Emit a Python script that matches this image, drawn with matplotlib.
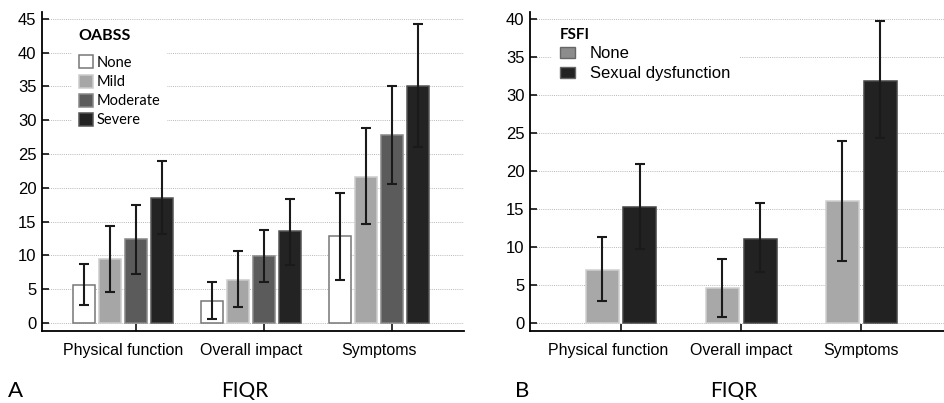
"""
FIQR domain scores by OABSS severity (A) and by FSFI status (B)
"""
import matplotlib
matplotlib.use("Agg")
import matplotlib.pyplot as plt
import matplotlib.transforms as mtransforms
import numpy as np

domains = ["Physical function", "Overall impact", "Symptoms"]

# panel A - OABSS
oabss_groups = ["None", "Mild", "Moderate", "Severe"]
oabss_mean = [[5.6, 3.2, 12.8],
              [9.5, 6.3, 21.6],
              [12.4, 9.9, 27.8],
              [18.5, 13.6, 35.1]]
oabss_low = [[2.6, 0.55, 6.3],
             [4.6, 2.3, 14.6],
             [7.2, 6.0, 20.6],
             [13.2, 8.6, 26.1]]
oabss_high = [[8.7, 6.0, 19.3],
              [14.35, 10.6, 28.9],
              [17.5, 13.8, 35.0],
              [24.0, 18.4, 44.2]]

# panel B - FSFI
fsfi_groups = ["None", "Sexual dysfunction"]
fsfi_mean = [[6.95, 4.6, 16.0],
             [15.3, 11.1, 31.9]]
fsfi_low = [[2.8, 0.75, 8.1],
            [9.75, 6.7, 24.4]]
fsfi_high = [[11.25, 8.45, 23.9],
             [20.9, 15.8, 39.7]]

ARIAL = "Liberation Sans"
CALIBRI = "Lato"

plt.rcParams["font.family"] = ARIAL
plt.rcParams["font.size"] = 12


def style_axes(ax, ylim, yticks):
    ax.set_ylim(*ylim)
    ax.set_yticks(yticks)
    for side in ("top", "right"):
        ax.spines[side].set_visible(False)
    for side in ("left", "bottom"):
        ax.spines[side].set_linewidth(1.3)
    ax.set_axisbelow(True)
    ax.yaxis.grid(True, linestyle=(0, (1, 1.2)), color="#b8b8b8", linewidth=0.7)
    ax.tick_params(axis="both", which="major", direction="in", length=5,
                   width=1.3, color="#222222", labelsize=12)
    ax.tick_params(axis="y", pad=4)
    ax.tick_params(axis="x", which="both", pad=9, labelsize=11.5)


def add_errorbars(ax, pos, mean, low, high):
    m = np.array(mean)
    err = [m - np.array(low), np.array(high) - m]
    ax.errorbar(pos, m, yerr=err, fmt="none", ecolor="#1a1a1a",
                elinewidth=1.5, capsize=3.6, capthick=1.5, zorder=3)


fig = plt.figure(figsize=(9.44, 4.03), dpi=100)
x = np.arange(len(domains))

# ---- panel A
axA = fig.add_axes([42 / 944, 1 - 331 / 403, 422 / 944, 319 / 403])
w_a = 0.172
step_a = 0.203
colors_a = ["white", "#a6a6a6", "#5b5b5b", "#232323"]
edges_a = ["#777777", "#cccccc", "#888888", "#555555"]
for i, grp in enumerate(oabss_groups):
    pos = x + (i - 1.5) * step_a
    axA.bar(pos, oabss_mean[i], width=w_a, color=colors_a[i], edgecolor=edges_a[i],
            linewidth=1.1, label=grp, zorder=2)
    add_errorbars(axA, pos, oabss_mean[i], oabss_low[i], oabss_high[i])
style_axes(axA, (-1.18, 46.0), range(0, 46, 5))
axA.set_xlim(-0.633, 2.66)
# tick marks sit on the third bar, labels at group centres
axA.set_xticks(x + 0.5 * step_a, labels=["", "", ""])
axA.set_xticks(x, minor=True)
axA.set_xticklabels(domains, minor=True)
axA.tick_params(axis="x", which="minor", length=0)

legA = axA.legend(title="OABSS", loc="upper left", bbox_to_anchor=(0.07, 0.97),
                  prop={"family": CALIBRI, "size": 10.5},
                  title_fontproperties={"family": CALIBRI, "weight": "bold", "size": 11.5},
                  frameon=True, facecolor="white", edgecolor="none", framealpha=1,
                  fancybox=False, borderpad=0.5, handlelength=1.0, handleheight=1.0,
                  handletextpad=0.2, labelspacing=0.32, borderaxespad=0)
legA._legend_box.align = "left"
legA._legend_box.sep = 9

# ---- panel B
axB = fig.add_axes([530 / 944, 1 - 331 / 403, 414 / 944, 319 / 403])
w_b = 0.275
off_b = 0.158
colors_b = ["#a8a8a8", "#222222"]
edges_b = ["#d0d0d0", "#444444"]
legend_b = ["#8c8c8c", "#222222"]
for i, grp in enumerate(fsfi_groups):
    pos = x + (i - 0.5) * 2 * off_b
    axB.bar(pos, fsfi_mean[i], width=w_b, color=colors_b[i], edgecolor=edges_b[i],
            linewidth=1.1, zorder=2)
    add_errorbars(axB, pos, fsfi_mean[i], fsfi_low[i], fsfi_high[i])
    # legend swatch is a shade darker than the bar
    axB.bar([np.nan], [np.nan], color=legend_b[i], edgecolor="#666666",
            linewidth=1.0, label=grp)
style_axes(axB, (-1.09, 40.95), range(0, 41, 5))
axB.set_xlim(-0.758, 2.69)
axB.set_xticks(x, labels=domains)
# first label is drawn a little left of its tick in the original
shift = mtransforms.ScaledTranslation(-13 / 100, 0, fig.dpi_scale_trans)
lbl = axB.get_xticklabels()[0]
lbl.set_transform(lbl.get_transform() + shift)

legB = axB.legend(title="FSFI", loc="upper left", bbox_to_anchor=(0.052, 0.975),
                  prop={"family": ARIAL, "size": 12},
                  title_fontproperties={"family": CALIBRI, "weight": "bold", "size": 11},
                  frameon=True, facecolor="white", edgecolor="none", framealpha=1,
                  fancybox=False, borderpad=0.5, handlelength=0.9, handleheight=0.7,
                  handletextpad=0.9, labelspacing=0.3, borderaxespad=0)
legB._legend_box.align = "left"
legB._legend_box.sep = 3

# ---- panel letters and axis titles
fig.text(8 / 944, 0.016, "A", family=CALIBRI, fontsize=16, va="baseline")
fig.text(245 / 944, 0.016, "FIQR", family=CALIBRI, fontsize=15,
         ha="center", va="baseline")
fig.text(515 / 944, 0.016, "B", family=CALIBRI, fontsize=16, va="baseline")
fig.text(734 / 944, 0.016, "FIQR", family=CALIBRI, fontsize=15,
         ha="center", va="baseline")

fig.savefig("out.png", dpi=100)
